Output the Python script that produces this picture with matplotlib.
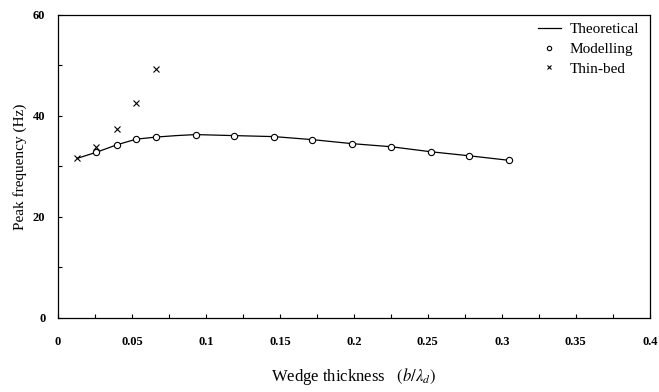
import matplotlib
matplotlib.use("Agg")
import matplotlib.pyplot as plt

plt.rcParams["font.family"] = ["Liberation Serif", "DejaVu Serif"]
plt.rcParams["mathtext.fontset"] = "stix"

# Theoretical curve
theory_x = [0.013, 0.026, 0.040, 0.053, 0.066, 0.080, 0.093, 0.119, 0.146, 0.172,
            0.199, 0.225, 0.252, 0.278, 0.305]
theory_y = [31.6, 32.8, 34.3, 35.4, 35.8, 36.1, 36.3, 36.1, 35.9, 35.3,
            34.5, 33.9, 32.9, 32.1, 31.2]

# Modelling points
model_x = [0.026, 0.040, 0.053, 0.066, 0.093, 0.119, 0.146, 0.172, 0.199, 0.225,
           0.252, 0.278, 0.305]
model_y = [32.8, 34.3, 35.4, 35.8, 36.3, 36.1, 35.9, 35.3, 34.5, 33.9,
           32.9, 32.1, 31.2]

# Thin-bed points
thin_x = [0.013, 0.026, 0.040, 0.053, 0.066]
thin_y = [31.6, 33.8, 37.4, 42.5, 49.3]

xticks = [0, 0.05, 0.1, 0.15, 0.2, 0.25, 0.3, 0.35, 0.4]
xticklabels = ["0", "0.05", "0.1", "0.15", "0.2", "0.25", "0.3", "0.35", "0.4"]
yticks = [0, 20, 40, 60]

fig = plt.figure(figsize=(6.59, 3.92), dpi=100)
ax = fig.add_axes([0.088, 0.189, 0.898, 0.773])

ax.plot(theory_x, theory_y, color="black", lw=0.9, label="Theoretical")
ax.plot(model_x, model_y, ls="none", marker="o", ms=4.5, mfc="white",
        mec="black", mew=0.8, label="Modelling")
ax.plot(thin_x, thin_y, ls="none", marker="x", ms=4.5, color="black",
        mew=0.8, label="Thin-bed")

ax.set_xlim(0, 0.4)
ax.set_ylim(0, 60)
ax.set_xticks(xticks)
ax.set_xticklabels(xticklabels)
ax.set_yticks(yticks)
ax.set_xticks([0.025, 0.075, 0.125, 0.175, 0.225, 0.275, 0.325, 0.375], minor=True)
ax.set_yticks([10, 30, 50], minor=True)
ax.tick_params(which="both", direction="in", length=3, width=0.8)
ax.tick_params(axis="x", which="major", pad=13)
ax.tick_params(axis="y", which="major", pad=9)
for lab in ax.get_xticklabels() + ax.get_yticklabels():
    lab.set_fontsize(9)
    lab.set_fontweight("bold")
for sp in ax.spines.values():
    sp.set_linewidth(0.9)

ax.set_ylabel("Peak frequency (Hz)", fontsize=11)
ax.set_xlabel(r"Wedge thickness   $\left(b/\lambda_d\right)$", fontsize=12, labelpad=13)

leg = ax.legend(loc="upper right", frameon=False, fontsize=11, handlelength=1.5,
                handletextpad=0.6, labelspacing=0.4, borderaxespad=0.1,
                bbox_to_anchor=(0.995, 1.0), markerscale=0.7)

fig.savefig("out.png", dpi=100)
